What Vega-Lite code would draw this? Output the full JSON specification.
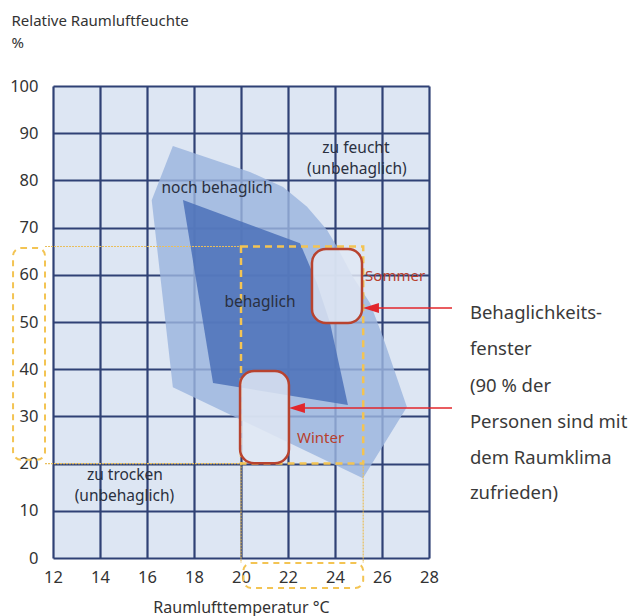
{
  "$schema": "https://vega.github.io/schema/vega-lite/v6.json",
  "width": 376,
  "height": 472,
  "autosize": {"type": "none"},
  "padding": {"left": 53, "top": 86, "right": 206, "bottom": 58},
  "background": "white",
  "config": {"view": {"fill": "#dde6f3", "stroke": null}, "font": "Noto Sans"},
  "datasets": {
    "outer": [
      {"i": 0, "x": 17.1, "y": 87.3},
      {"i": 1, "x": 20.38, "y": 81.8},
      {"i": 2, "x": 21.79, "y": 78.6},
      {"i": 3, "x": 22.81, "y": 74.4},
      {"i": 4, "x": 23.66, "y": 69.5},
      {"i": 5, "x": 24.09, "y": 65.9},
      {"i": 6, "x": 24.77, "y": 59.5},
      {"i": 7, "x": 25.49, "y": 54.0},
      {"i": 8, "x": 26.04, "y": 46.8},
      {"i": 9, "x": 27.06, "y": 32.0},
      {"i": 10, "x": 25.19, "y": 16.9},
      {"i": 11, "x": 17.1, "y": 36.2},
      {"i": 12, "x": 16.2, "y": 75.8}
    ],
    "inner": [
      {"i": 0, "x": 17.53, "y": 75.85},
      {"i": 1, "x": 22.51, "y": 66.7},
      {"i": 2, "x": 23.23, "y": 58.26},
      {"i": 3, "x": 23.79, "y": 49.8},
      {"i": 4, "x": 24.55, "y": 32.4},
      {"i": 5, "x": 18.81, "y": 37.1}
    ],
    "zone": [{"x": 20, "x2": 25.2, "y": 20, "y2": 66}],
    "labelboxes": [
      {"x": 10.3, "x2": 11.66, "y": 20.8, "y2": 65.7},
      {"x": 20.1, "x2": 25.2, "y": -1.06, "y2": -6.36}
    ],
    "thin": [
      {"x": 11.66, "x2": 20, "y": 66, "y2": 66},
      {"x": 11.66, "x2": 20, "y": 20, "y2": 20},
      {"x": 20, "x2": 20, "y": 20, "y2": -1.06},
      {"x": 25.2, "x2": 25.2, "y": 20, "y2": -1.06}
    ],
    "boxes": [
      {"name": "Sommer", "x": 23.02, "x2": 25.15, "y": 49.8, "y2": 65.47},
      {"name": "Winter", "x": 19.96, "x2": 22.04, "y": 20.1, "y2": 39.6}
    ],
    "arrows": [
      {"x": 28.98, "x2": 25.6, "y": 52.97, "y2": 52.97, "tipx": 25.53},
      {"x": 28.98, "x2": 22.45, "y": 31.78, "y2": 31.78, "tipx": 22.38}
    ],
    "labels": [
      {"label": "noch behaglich", "x": 18.98, "y": 78.4},
      {"label": "behaglich", "x": 20.81, "y": 54.2},
      {"label": "zu feucht", "x": 24.89, "y": 86.9},
      {"label": "(unbehaglich)", "x": 24.93, "y": 82.4},
      {"label": "zu trocken", "x": 15.06, "y": 17.6},
      {"label": "(unbehaglich)", "x": 15.04, "y": 13.1}
    ],
    "seasons": [
      {"label": "Sommer", "x": 25.28, "y": 59.75},
      {"label": "Winter", "x": 22.38, "y": 25.4}
    ],
    "note": [
      {"label": "Behaglichkeits-", "x": 29.74, "y": 51.91},
      {"label": "fenster", "x": 29.74, "y": 44.28},
      {"label": "(90 % der", "x": 29.74, "y": 36.44},
      {"label": "Personen sind mit", "x": 29.74, "y": 28.81},
      {"label": "dem Raumklima", "x": 29.74, "y": 21.19},
      {"label": "zufrieden)", "x": 29.74, "y": 13.77}
    ]
  },
  "encoding": {
    "x": {
      "field": "x",
      "type": "quantitative",
      "scale": {"domain": [12, 28], "nice": false, "zero": false},
      "axis": {
        "values": [12, 14, 16, 18, 20, 22, 24, 26, 28],
        "domain": false,
        "ticks": false,
        "tickSize": 0,
        "grid": true,
        "gridColor": "#2f4175",
        "gridWidth": 2.2,
        "gridOpacity": 1,
        "labelFont": "Noto Sans",
        "labelFontSize": 16.5,
        "labelColor": "#333333",
        "labelPadding": 11,
        "labelFlush": false,
        "title": "Raumlufttemperatur °C",
        "titleFont": "Noto Sans",
        "titleFontSize": 16,
        "titleFontWeight": "normal",
        "titleColor": "#333333",
        "titleBaseline": "middle",
        "titleY": 49
      }
    },
    "y": {
      "field": "y",
      "type": "quantitative",
      "scale": {"domain": [0, 100], "nice": false, "zero": false},
      "axis": {
        "values": [0, 10, 20, 30, 40, 50, 60, 70, 80, 90, 100],
        "domain": false,
        "ticks": false,
        "tickSize": 0,
        "grid": true,
        "gridColor": "#2f4175",
        "gridWidth": 2.2,
        "gridOpacity": 1,
        "labelFont": "Noto Sans",
        "labelFontSize": 16.5,
        "labelColor": "#333333",
        "labelPadding": 15,
        "labelFlush": false,
        "title": ["Relative Raumluftfeuchte", "%"],
        "titleFont": "Noto Sans",
        "titleFontSize": 15,
        "titleFontWeight": "normal",
        "titleColor": "#333333",
        "titleAngle": 0,
        "titleAlign": "left",
        "titleBaseline": "top",
        "titleLineHeight": 22,
        "titleX": -42,
        "titleY": -73
      }
    }
  },
  "layer": [
    {
      "data": {"name": "outer"},
      "mark": {"type": "line", "interpolate": "linear-closed", "fill": "#9bb5de", "fillOpacity": 0.82, "strokeOpacity": 0, "strokeWidth": 0},
      "encoding": {"order": {"field": "i", "type": "quantitative"}}
    },
    {
      "data": {"name": "inner"},
      "mark": {"type": "line", "interpolate": "linear-closed", "fill": "#4a6fb8", "fillOpacity": 0.84, "strokeOpacity": 0, "strokeWidth": 0},
      "encoding": {"order": {"field": "i", "type": "quantitative"}}
    },
    {
      "data": {"name": "thin"},
      "mark": {"type": "rule", "color": "#e9bf5c", "strokeWidth": 1.2, "strokeDash": [2, 1]},
      "encoding": {"x2": {"field": "x2"}, "y2": {"field": "y2"}}
    },
    {
      "data": {"name": "zone"},
      "mark": {"type": "rect", "filled": false, "stroke": "#f3c453", "strokeWidth": 2.5, "strokeDash": [7, 5]},
      "encoding": {"x2": {"field": "x2"}, "y2": {"field": "y2"}}
    },
    {
      "data": {"name": "labelboxes"},
      "mark": {"type": "rect", "filled": false, "stroke": "#f3c453", "strokeWidth": 2, "strokeDash": [6, 5], "cornerRadius": 8},
      "encoding": {"x2": {"field": "x2"}, "y2": {"field": "y2"}}
    },
    {
      "data": {"name": "boxes"},
      "mark": {"type": "rect", "fill": "#e0e7f3", "fillOpacity": 0.85, "stroke": "#b8432f", "strokeWidth": 2.5, "cornerRadius": 14},
      "encoding": {"x2": {"field": "x2"}, "y2": {"field": "y2"}}
    },
    {
      "data": {"name": "arrows"},
      "mark": {"type": "rule", "color": "#e2262b", "strokeWidth": 1.5},
      "encoding": {"x2": {"field": "x2"}, "y2": {"field": "y2"}}
    },
    {
      "data": {"name": "arrows"},
      "mark": {"type": "point", "shape": "M -1 0 L 1 -0.62 L 1 0.62 Z", "filled": true, "color": "#e2262b", "opacity": 1, "size": 256},
      "encoding": {"x": {"field": "tipx", "type": "quantitative"}}
    },
    {
      "data": {"name": "labels"},
      "mark": {"type": "text", "font": "Noto Sans", "fontSize": 15.5, "color": "#2a3040", "align": "center", "baseline": "middle"},
      "encoding": {"text": {"field": "label"}}
    },
    {
      "data": {"name": "seasons"},
      "mark": {"type": "text", "font": "Noto Sans", "fontSize": 15, "color": "#b8402c", "align": "left", "baseline": "middle"},
      "encoding": {"text": {"field": "label"}}
    },
    {
      "data": {"name": "note"},
      "mark": {"type": "text", "font": "Noto Sans", "fontSize": 18.5, "color": "#3a3a3a", "align": "left", "baseline": "middle"},
      "encoding": {"text": {"field": "label"}}
    }
  ]
}
